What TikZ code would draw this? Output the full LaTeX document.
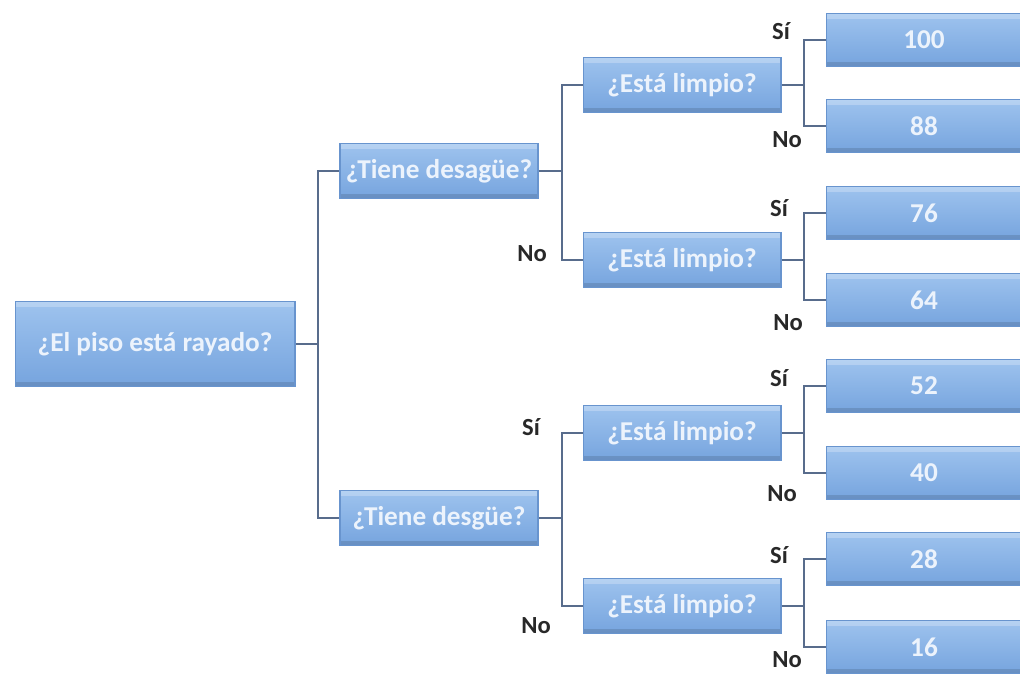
\documentclass[tikz,border=0pt]{standalone}
\usepackage{fontspec}
\setmainfont{Carlito}
\usepackage{tikz}
\usetikzlibrary{positioning,calc}
\definecolor{boxtop}{RGB}{158,195,238}
\definecolor{boxbot}{RGB}{118,164,222}
\definecolor{boxedge}{RGB}{104,148,206}
\definecolor{boxtext}{RGB}{236,243,252}
\definecolor{linkgray}{RGB}{88,108,140}
\definecolor{labelgray}{RGB}{40,40,40}

\begin{document}
\begin{tikzpicture}[x=0.02cm,y=-0.02cm,
  box/.style={draw=boxedge,line width=0.6pt,top color=boxtop,bottom color=boxbot,
    text=boxtext,font=\fontsize{15.5}{18}\selectfont\bfseries,inner sep=0pt,
    path picture={
      \fill[white,opacity=.25] (path picture bounding box.north west) rectangle ([yshift=-0.1cm]path picture bounding box.north east);
      \fill[black,opacity=.12] (path picture bounding box.south west) rectangle ([yshift=0.1cm]path picture bounding box.south east);}},
  rootbox/.style={box,minimum width=5.6cm,minimum height=1.7cm},
  askbox/.style={box,minimum width=3.96cm,minimum height=1.1cm},
  leafbox/.style={box,minimum width=3.92cm,minimum height=1.06cm},
  link/.style={draw=linkgray,line width=0.8pt},
  ans/.style={text=labelgray,font=\fontsize{14}{16}\selectfont\bfseries,inner sep=0pt}]
  \useasboundingbox (0,0) rectangle (1020,674);

  \node[rootbox] (root) at (155,344) {¿El piso está rayado?};
  \node[askbox] (desague) at (439,171) {¿Tiene desagüe?};
  \node[askbox] (desgue) at (439,518) {¿Tiene desgüe?};
  \node[askbox] (limpioA) at (682,85) {¿Está limpio?};
  \node[askbox] (limpioB) at (682,260) {¿Está limpio?};
  \node[askbox] (limpioC) at (682,433) {¿Está limpio?};
  \node[askbox] (limpioD) at (682,606) {¿Está limpio?};
  \node[leafbox] (v100) at (924,40) {100};
  \node[leafbox] (v88) at (924,126) {88};
  \node[leafbox] (v76) at (924,213) {76};
  \node[leafbox] (v64) at (924,300) {64};
  \node[leafbox] (v52) at (924,386) {52};
  \node[leafbox] (v40) at (924,473) {40};
  \node[leafbox] (v28) at (924,559) {28};
  \node[leafbox] (v16) at (924,647) {16};

  \coordinate (jroot) at (318,344);
  \coordinate (jdesague) at (562,171);
  \coordinate (jdesgue) at (562,518);
  \coordinate (jA) at (804,85);
  \coordinate (jB) at (804,260);
  \coordinate (jC) at (804,433);
  \coordinate (jD) at (804,606);

  \draw[link] (root) -- (jroot);
  \draw[link] (jroot) |- (desague);
  \draw[link] (jroot) |- (desgue);
  \draw[link] (desague) -- (jdesague);
  \draw[link] (jdesague) |- (limpioA);
  \draw[link] (jdesague) |- (limpioB);
  \draw[link] (desgue) -- (jdesgue);
  \draw[link] (jdesgue) |- (limpioC);
  \draw[link] (jdesgue) |- (limpioD);
  \draw[link] (limpioA) -- (jA);
  \draw[link] (jA) |- (v100);
  \draw[link] (jA) |- (v88);
  \draw[link] (limpioB) -- (jB);
  \draw[link] (jB) |- (v76);
  \draw[link] (jB) |- (v64);
  \draw[link] (limpioC) -- (jC);
  \draw[link] (jC) |- (v52);
  \draw[link] (jC) |- (v40);
  \draw[link] (limpioD) -- (jD);
  \draw[link] (jD) |- (v28);
  \draw[link] (jD) |- (v16);

  \node[ans] (siA) at (781,31) {Sí};
  \node[ans] (noA) at (787,140) {No};
  \node[ans] (siB) at (779,208) {Sí};
  \node[ans] (noB) at (788,323) {No};
  \node[ans] (siC) at (779,378) {Sí};
  \node[ans] (noC) at (782,494) {No};
  \node[ans] (siD) at (779,555) {Sí};
  \node[ans] (noD) at (787,660) {No};
  \node[ans] (noDesague) at (532,254) {No};
  \node[ans] (siDesgue) at (531,427) {Sí};
  \node[ans] (noDesgue) at (536,626) {No};
\end{tikzpicture}
\end{document}
